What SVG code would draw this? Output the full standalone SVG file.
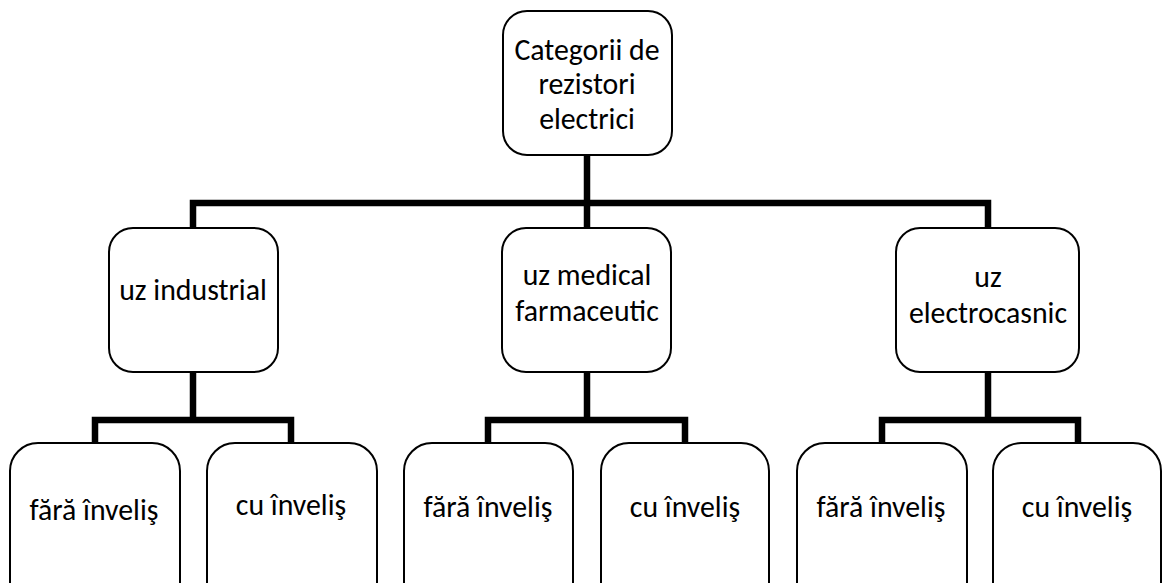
<svg xmlns="http://www.w3.org/2000/svg" width="1162" height="583" viewBox="0 0 1162 583">
<style>
.box{fill:#fff;stroke:#000;stroke-width:2}
.lbl{font-family:Carlito,Lato,"Open Sans",sans-serif;font-size:29.8px;fill:#000;text-anchor:middle}
.con{fill:none;stroke:#000;stroke-width:6.5;stroke-linejoin:miter;stroke-linecap:butt}
</style>
<rect width="1162" height="583" fill="#fff"/>
<g id="connectors">
<path class="con" d="M587 155 V203"/>
<path class="con" d="M193 228 V203 H988 V228"/>
<path class="con" d="M587 203 V228"/>
<path class="con" d="M193 372 V420"/>
<path class="con" d="M95 443 V420 H291 V443"/>
<path class="con" d="M587 372 V420"/>
<path class="con" d="M488 443 V420 H685 V443"/>
<path class="con" d="M988 372 V420"/>
<path class="con" d="M882 443 V420 H1078 V443"/>
</g>
<g id="root">
<rect class="box" x="503" y="11" width="169" height="144" rx="24"/>
<text class="lbl" x="587" y="59.5">Categorii de</text>
<text class="lbl" x="587" y="94">rezistori</text>
<text class="lbl" x="587" y="128.5">electrici</text>
</g>
<g id="industrial">
<rect class="box" x="109" y="228" width="169" height="144" rx="24"/>
<text class="lbl" x="193" y="300">uz industrial</text>
</g>
<g id="medical">
<rect class="box" x="502" y="228" width="169" height="144" rx="24"/>
<text class="lbl" x="587" y="285">uz medical</text>
<text class="lbl" x="587" y="321">farmaceutic</text>
</g>
<g id="electrocasnic">
<rect class="box" x="896" y="228" width="183" height="144" rx="24"/>
<text class="lbl" x="988" y="287">uz</text>
<text class="lbl" x="988" y="323">electrocasnic</text>
</g>
<g id="ind-fara">
<rect class="box" x="10" y="443" width="170" height="175" rx="28"/>
<text class="lbl" x="94" y="520">fără înveliş</text>
</g>
<g id="ind-cu">
<rect class="box" x="207" y="443" width="170" height="175" rx="28"/>
<text class="lbl" x="291" y="515">cu înveliş</text>
</g>
<g id="med-fara">
<rect class="box" x="404" y="443" width="169" height="175" rx="28"/>
<text class="lbl" x="488" y="517">fără înveliş</text>
</g>
<g id="med-cu">
<rect class="box" x="601" y="443" width="168" height="175" rx="28"/>
<text class="lbl" x="685" y="517">cu înveliş</text>
</g>
<g id="el-fara">
<rect class="box" x="797" y="443" width="170" height="175" rx="28"/>
<text class="lbl" x="881" y="517">fără înveliş</text>
</g>
<g id="el-cu">
<rect class="box" x="993" y="443" width="168" height="175" rx="28"/>
<text class="lbl" x="1077" y="517">cu înveliş</text>
</g>
</svg>
